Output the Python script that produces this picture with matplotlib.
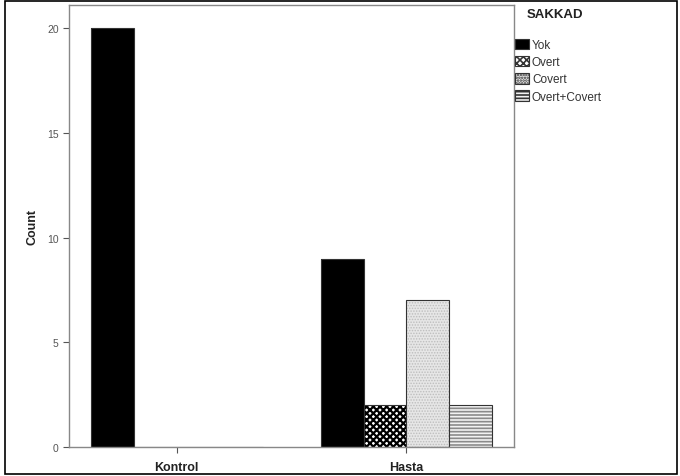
import matplotlib
matplotlib.use("Agg")
import matplotlib.pyplot as plt
import numpy as np
from matplotlib.patches import Rectangle, Patch

plt.rcParams['font.family'] = ['Liberation Sans', 'DejaVu Sans']

categories = ["Kontrol", "Hasta"]
series = ["Yok", "Overt", "Covert", "Overt+Covert"]
values = {
    "Yok": [20, 9],
    "Overt": [0, 2],
    "Covert": [0, 7],
    "Overt+Covert": [0, 2],
}
yticks = [0, 5, 10, 15, 20]

styles = {
    "Yok": dict(facecolor="black", hatch=None, hcolor="black", hlw=1.0),
    "Overt": dict(facecolor="white", hatch="xxxxx", hcolor="black", hlw=1.6),
    "Covert": dict(facecolor="#e6e6e6", hatch="......", hcolor="#bdbdbd", hlw=0.7),
    "Overt+Covert": dict(facecolor="#f2f2f2", hatch="-----", hcolor="#8a8a8a", hlw=1.2),
}

fig = plt.figure(figsize=(6.8, 4.77), dpi=100)
ax = fig.add_axes([0.1015, 0.0608, 0.6545, 0.9262])

x = np.arange(len(categories))
bw = 0.187
n = len(series)
for i, s in enumerate(series):
    st = styles[s]
    pos = x + (i - (n - 1) / 2) * bw
    plt.rcParams['hatch.linewidth'] = st["hlw"]
    ax.bar(pos, values[s], width=bw, facecolor=st["facecolor"],
           edgecolor=st["hcolor"], hatch=st["hatch"], linewidth=0)
    ax.bar(pos, values[s], width=bw, facecolor="none",
           edgecolor="#333333", linewidth=0.8)

ax.set_xlim(-0.468, 1.468)
ax.set_ylim(0, 21.1)
ax.set_xticks(x)
ax.set_xticklabels(categories, fontsize=9, fontweight="bold", color="#222222")
ax.set_yticks(yticks)
ax.set_yticklabels([str(t) for t in yticks], fontsize=7.5, color="#555555")
ax.tick_params(axis="both", direction="out", length=4, width=0.8, color="#555555")
ax.tick_params(axis="x", pad=6)
for sp in ax.spines.values():
    sp.set_color("#888888")
    sp.set_linewidth(1.0)
ax.set_ylabel("Count", fontsize=9, fontweight="bold", color="#222222", labelpad=6)

handles = []
for s in series:
    st = styles[s]
    plt.rcParams['hatch.linewidth'] = st["hlw"]
    handles.append(Patch(facecolor=st["facecolor"], edgecolor="#333333",
                         hatch=st["hatch"], linewidth=0.8, label=s))
leg = fig.legend(handles=handles, loc="upper left", bbox_to_anchor=(0.757, 0.917),
                 frameon=False, fontsize=8.5,
                 handlelength=1.2, handleheight=1.0, handletextpad=0.25,
                 labelspacing=0.42, borderaxespad=0, borderpad=0)
for t in leg.get_texts():
    t.set_color("#333333")
fig.text(0.775, 0.968, "SAKKAD", fontsize=9.5, fontweight="bold",
         color="#222222", ha="left", va="center")

fig.patches.append(Rectangle((0.007, 0.004), 0.989, 0.992, transform=fig.transFigure,
                             fill=False, edgecolor="black", linewidth=1.2))

fig.savefig("out.png", dpi=100)
